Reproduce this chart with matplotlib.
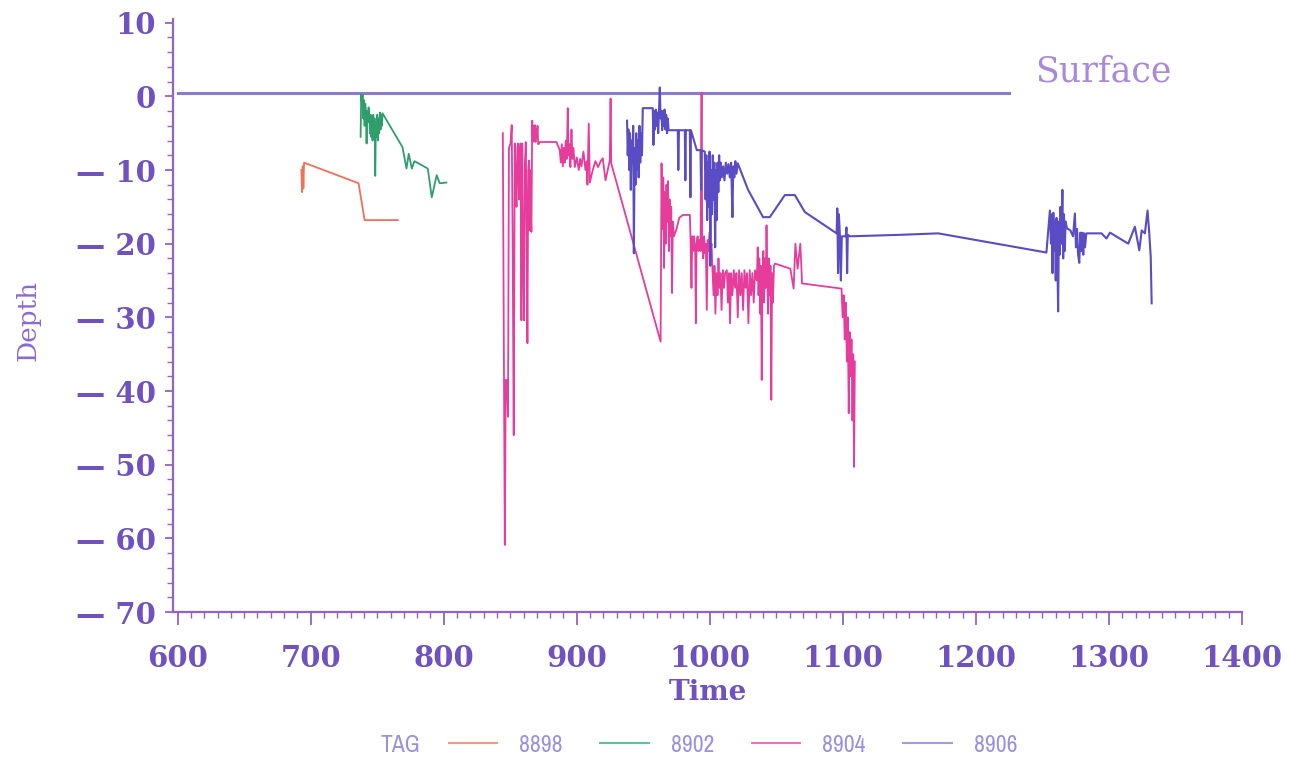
import matplotlib
matplotlib.use("Agg")
import matplotlib.pyplot as plt
from matplotlib import font_manager as fm
from matplotlib.ticker import MultipleLocator, FixedLocator
from matplotlib.lines import Line2D

# ---------------- data ----------------
tags = ["8898", "8902", "8904", "8906"]
colors = ["#f07058", "#2e9e6c", "#e63c9c", "#5a4cc4"]
legend_colors = ["#f29a80", "#5fc0a0", "#ee70b8", "#a898e8"]

t8898 = [693.0, 693.5, 694.0, 694.5, 695.0, 736.0, 740.5, 765.5]
d8898 = [-10.0, -13.0, -9.5, -12.5, -9.0, -11.8, -16.8, -16.8]

t8902 = [737.5, 738.0, 738.5, 739.0, 739.5, 740.0, 740.5, 741.0, 741.5, 742.0,
         742.5, 743.0, 743.5, 744.0, 744.5, 745.0, 745.5, 746.0, 746.5, 747.0,
         747.5, 748.0, 748.5, 749.0, 749.5, 750.0, 750.5, 751.0, 751.5, 752.0,
         752.5, 753.0, 753.5, 754.0, 769.0, 772.0, 773.7, 776.0, 778.0, 788.0,
         791.0, 794.7, 797.0, 802.0]
d8902 = [-5.5, 0.3, -1.0, 0.2, -3.0, -0.5, -4.0, -1.0, -2.0, -6.4,
         -2.0, -3.5, -1.5, -2.5, -5.0, -2.5, -5.5, -3.0, -6.0, -2.5,
         -5.0, -3.0, -10.8, -3.5, -5.5, -2.5, -6.0, -3.0, -5.0, -2.2,
         -4.5, -2.5, -4.0, -2.3, -6.9, -9.8, -7.8, -9.8, -8.8, -9.8,
         -13.7, -10.7, -11.8, -11.7]

t8904 = [844.4, 845.9, 846.6, 847.5, 848.3, 849.0, 850.2, 851.1, 851.8, 852.6,
         853.4, 854.1, 854.7, 855.3, 855.9, 856.5, 857.1, 857.7, 858.4, 859.0,
         859.6, 860.4, 861.0, 861.7, 862.3, 862.9, 863.5, 864.1, 864.6, 865.0,
         865.4, 865.9, 866.5, 867.0, 867.5, 868.0, 868.5, 869.0, 869.5, 870.0,
         870.5, 871.0, 872.2, 884.7, 887.2, 888.0, 888.7, 889.5, 890.2, 891.0,
         891.7, 892.5, 893.2, 893.8, 894.5, 895.2, 896.0, 896.7, 897.5, 898.5,
         900.0, 901.5, 902.5, 903.5, 905.0, 906.5, 907.5, 908.0, 909.0, 909.8,
         912.0, 914.0, 916.0, 918.0, 919.5, 921.6, 924.8, 925.4, 925.9, 963.0,
         963.7, 964.3, 965.0, 965.6, 966.2, 966.8, 967.4, 968.0, 968.6, 969.2,
         969.8, 970.4, 971.0, 971.6, 972.2, 973.0, 975.0, 977.0, 979.7, 985.0,
         985.6, 986.2, 986.8, 987.5, 988.2, 989.0, 989.5, 990.0, 990.8, 991.5,
         992.2, 993.0, 993.8, 994.3, 995.0, 995.7, 996.4, 997.0, 997.7, 998.4,
         999.0, 999.7, 1000.4, 1001.3, 1002.0, 1002.8, 1003.5, 1004.2, 1005.0, 1005.8,
         1006.5, 1007.2, 1008.0, 1008.8, 1009.8, 1010.6, 1011.5, 1012.8, 1013.6, 1014.4,
         1015.2, 1016.0, 1017.0, 1018.0, 1019.0, 1020.0, 1021.0, 1022.0, 1023.0, 1024.0,
         1025.0, 1026.0, 1027.0, 1028.0, 1029.0, 1030.0, 1031.0, 1032.0, 1033.0, 1034.0,
         1035.3, 1036.0, 1036.6, 1037.2, 1037.8, 1038.4, 1039.0, 1039.6, 1040.2, 1040.8,
         1041.4, 1042.0, 1042.6, 1043.2, 1043.8, 1044.4, 1045.0, 1045.6, 1046.2, 1046.8,
         1047.4, 1048.2, 1049.0, 1060.5, 1063.0, 1064.3, 1066.0, 1068.0, 1068.8, 1069.3,
         1099.0, 1099.8, 1100.6, 1101.4, 1102.2, 1103.0, 1103.7, 1104.4, 1105.1, 1105.8,
         1106.5, 1107.2, 1107.8, 1108.4, 1109.0]
d8904 = [-5.0, -60.9, -38.5, -38.5, -43.5, -7.0, -6.4, -3.9, -20.0, -46.0,
         -6.4, -12.0, -15.0, -7.0, -6.4, -14.0, -11.4, -6.4, -30.4, -6.4,
         -20.0, -30.4, -9.0, -6.2, -18.0, -33.5, -10.0, -8.7, -18.2, -10.0,
         -16.0, -18.4, -3.3, -6.2, -4.0, -6.0, -3.9, -6.2, -4.5, -5.5,
         -4.0, -6.5, -6.2, -6.2, -7.3, -9.0, -6.5, -9.5, -7.0, -9.0,
         -6.0, -8.5, -1.6, -8.0, -6.5, -9.6, -4.5, -8.5, -7.0, -9.6,
         -8.3, -10.0, -8.5, -9.5, -7.5, -10.0, -8.8, -12.0, -3.7, -11.7,
         -10.0, -8.8, -9.6, -8.8, -8.4, -11.4, -8.7, -0.3, -9.1, -33.3,
         -9.1, -18.0, -11.0, -23.3, -13.0, -20.0, -12.0, -17.0, -11.5, -21.0,
         -14.0, -19.0, -15.0, -26.7, -17.0, -19.0, -18.0, -16.5, -16.1, -16.1,
         -20.0, -26.0, -19.0, -21.0, -19.0, -21.3, -30.8, -20.0, -19.0, -21.0,
         -19.5, -21.0, 0.5, -20.0, -22.0, -19.0, -21.3, -20.0, -29.0, -19.5,
         -21.0, -18.5, -21.0, -20.0, -23.6, -27.0, -23.0, -29.5, -24.0, -27.0,
         -22.0, -26.0, -24.0, -29.0, -23.6, -26.0, -24.0, -23.6, -28.0, -24.0,
         -30.8, -24.0, -27.0, -23.6, -26.0, -24.0, -30.0, -23.6, -27.0, -24.0,
         -29.0, -23.6, -26.0, -24.0, -30.8, -23.6, -27.0, -24.0, -28.0, -23.6,
         -25.0, -20.5, -27.0, -22.0, -29.5, -23.0, -38.5, -24.0, -21.0, -28.0,
         -22.0, -26.0, -17.5, -24.0, -29.5, -22.0, -27.0, -23.0, -41.2, -24.0,
         -28.0, -23.0, -22.7, -23.4, -26.1, -20.0, -23.4, -20.0, -23.1, -25.4,
         -26.1, -30.0, -27.0, -33.0, -28.0, -36.0, -30.0, -43.0, -32.0, -38.0,
         -33.0, -44.0, -35.0, -50.3, -36.0]

t8906 = [937.8, 938.3, 938.8, 939.4, 940.0, 940.6, 941.2, 941.8, 942.4, 942.9,
         943.5, 944.1, 944.7, 945.3, 945.9, 946.5, 947.1, 947.7, 948.3, 949.0,
         949.6, 957.1, 957.6, 958.2, 958.8, 959.4, 960.0, 960.6, 961.2, 961.8,
         962.4, 963.0, 963.6, 964.2, 964.8, 965.4, 966.0, 966.6, 967.2, 967.8,
         968.4, 969.0, 969.9, 975.9, 976.3, 976.8, 981.2, 981.6, 982.0, 985.0,
         985.4, 985.8, 990.2, 993.0, 993.4, 993.8, 996.2, 996.8, 997.4, 998.0,
         998.6, 999.2, 999.8, 1000.4, 1001.0, 1001.6, 1002.2, 1002.8, 1003.4, 1004.0,
         1004.6, 1005.2, 1005.8, 1006.4, 1007.0, 1007.5, 1008.2, 1009.0, 1010.0, 1011.0,
         1012.0, 1013.0, 1014.0, 1015.0, 1016.0, 1017.0, 1017.6, 1018.4, 1019.2, 1020.0,
         1021.0, 1028.8, 1040.0, 1045.1, 1056.4, 1063.9, 1071.4, 1095.3, 1095.8, 1096.4,
         1097.0, 1097.7, 1098.5, 1099.2, 1102.2, 1102.7, 1103.2, 1103.7, 1105.3, 1142.9,
         1171.7, 1253.0, 1255.6, 1256.4, 1257.0, 1257.6, 1258.2, 1258.8, 1259.4, 1260.0,
         1260.6, 1261.2, 1261.8, 1262.4, 1263.0, 1263.6, 1264.2, 1265.0, 1265.6, 1266.2,
         1266.8, 1267.4, 1268.4, 1271.0, 1273.0, 1274.4, 1275.2, 1276.0, 1276.8, 1277.7,
         1278.5, 1279.3, 1280.0, 1280.7, 1281.3, 1282.0, 1283.0, 1294.4, 1298.1, 1300.8,
         1314.5, 1319.5, 1322.8, 1324.6, 1327.0, 1329.0, 1330.3, 1331.4, 1332.1]
d8906 = [-3.3, -8.0, -4.5, -10.0, -5.0, -12.7, -6.0, -9.0, -4.0, -21.3,
         -7.0, -12.0, -5.0, -10.0, -6.0, -11.0, -4.0, -9.0, -5.0, -8.0,
         -1.6, -1.6, -6.6, -2.0, -4.5, -1.8, -4.0, -2.2, -5.0, -2.0,
         1.2, -3.0, -2.0, -4.6, -2.0, -4.0, -1.8, -4.5, -2.5, -5.0,
         -3.0, -4.6, -4.6, -4.6, -10.0, -4.6, -4.6, -11.4, -4.6, -4.6,
         -13.7, -4.6, -7.3, -7.3, -12.7, -7.3, -7.5, -14.0, -8.0, -16.8,
         -9.0, -15.0, -7.5, -23.0, -10.0, -16.0, -8.0, -14.0, -9.0, -20.5,
         -10.0, -16.8, -9.0, -13.0, -8.0, -11.4, -9.0, -11.0, -9.5, -11.4,
         -9.0, -10.5, -9.2, -11.0, -9.0, -16.4, -9.5, -11.0, -8.8, -10.5,
         -9.1, -12.7, -16.4, -16.4, -13.4, -13.4, -15.7, -18.6, -15.2, -24.0,
         -16.0, -18.6, -25.0, -19.0, -19.0, -17.8, -24.0, -18.8, -19.0, -18.8,
         -18.6, -21.2, -15.5, -20.0, -16.0, -24.0, -15.8, -21.0, -17.0, -25.0,
         -16.5, -22.0, -29.2, -17.0, -21.5, -15.0, -20.0, -12.7, -22.0, -16.0,
         -21.0, -17.0, -17.9, -18.2, -19.0, -15.9, -20.5, -18.0, -21.5, -22.6,
         -18.5, -21.0, -18.5, -21.5, -18.6, -20.5, -18.6, -18.6, -19.3, -18.5,
         -20.0, -17.7, -20.9, -18.2, -18.6, -15.5, -18.6, -21.8, -28.1]

surface_t = [600.0, 1225.0]
surface_d = [0.5, 0.5]
surface_label = "Surface"

x_ticks = [600, 700, 800, 900, 1000, 1100, 1200, 1300, 1400]
y_ticks = [-70, -60, -50, -40, -30, -20, -10, 0, 10]
y_tick_labels = ["\u2014 70", "\u2014 60", "\u2014 50", "\u2014 40", "\u2014 30",
                 "\u2014 20", "\u2014 10", "0", "10"]

# ---------------- narrow font for the legend, if any is installed ----------------
narrow_family = None
for f in fm.fontManager.ttflist:
    nm = f.name
    if ("Narrow" in nm or "Condensed" in nm) and narrow_family is None:
        narrow_family = nm
for f in fm.fontManager.ttflist:
    if narrow_family is None and str(f.stretch) in ("condensed", "semi-condensed", "extra-condensed") \
            and f.name in ("DejaVu Sans", "Liberation Sans", "Roboto", "Open Sans", "Noto Sans"):
        narrow_family = f.name
legend_family = [narrow_family, "DejaVu Sans"] if narrow_family else ["Roboto", "DejaVu Sans"]

# ---------------- figure ----------------
W, H = 1290, 764
fig = plt.figure(figsize=(W / 100, H / 100), dpi=100)
ax = fig.add_axes([173 / W, 1 - 612 / H, (1242 - 173) / W, (612 - 19) / H])

axis_col = "#8f63c8"
lab_col = "#6f52bf"

ax.plot(surface_t, surface_d, color="#8a7ad2", lw=2.2, zorder=2)
series = [(t8898, d8898), (t8902, d8902), (t8904, d8904), (t8906, d8906)]
lws = [1.3, 1.3, 1.3, 1.5]
for (t, d), c, lw in zip(series, colors, lws):
    ax.plot(t, d, color=c, lw=lw, zorder=3)

fig.text(1103 / W, 1 - 72 / H, surface_label, ha="center", va="center",
         fontsize=25, color="#a88ad8", family="DejaVu Serif")

ax.set_xlim(596.5, 1400)
ax.set_ylim(-70, 10.5)

for s in ["top", "right"]:
    ax.spines[s].set_visible(False)
for s in ["left", "bottom"]:
    ax.spines[s].set_color(axis_col)
    ax.spines[s].set_linewidth(1.6)

ax.xaxis.set_major_locator(FixedLocator(x_ticks))
ax.xaxis.set_minor_locator(MultipleLocator(10))
ax.yaxis.set_major_locator(FixedLocator(y_ticks))
ax.yaxis.set_minor_locator(MultipleLocator(2))
ax.set_yticklabels(y_tick_labels)

ax.tick_params(axis="both", which="major", direction="out", color=axis_col,
               width=1.3, labelcolor=lab_col, labelsize=21)
ax.tick_params(axis="x", which="major", length=9, pad=14)
ax.tick_params(axis="y", which="major", length=6, pad=6)
ax.tick_params(axis="both", which="minor", direction="out", color=axis_col,
               width=1.0, length=4)
for lbl in ax.get_xticklabels():
    lbl.set_family("DejaVu Serif")
    lbl.set_fontweight("bold")
for lbl in ax.get_yticklabels():
    lbl.set_family("DejaVu Serif")
    lbl.set_fontweight("semibold")

fig.text(708 / W, 1 - 693 / H, "Time", ha="center", va="center",
         fontsize=20, fontweight="bold", family="DejaVu Serif", color=lab_col)
fig.text(28 / W, 1 - 320 / H, "Depth", ha="center", va="center", rotation=90,
         fontsize=19, family="DejaVu Serif", color="#8a6ad0")

# legend
handles = [Line2D([], [], color=c, lw=1.5) for c in legend_colors]
leg = fig.legend(handles, tags, loc="center", bbox_to_anchor=(733 / W, 1 - 745 / H),
                 ncol=4, frameon=False, handlelength=2.05, handletextpad=0.93,
                 columnspacing=1.6,
                 prop=dict(family=legend_family, weight="light", size=17))
for txt in leg.get_texts():
    txt.set_color("#9a90e0")
fig.text(400 / W, 1 - 745 / H, "TAG", ha="center", va="center", fontsize=17,
         family=legend_family, weight="light", color="#9a90e0")

fig.savefig("out.png", dpi=100, facecolor="white")
